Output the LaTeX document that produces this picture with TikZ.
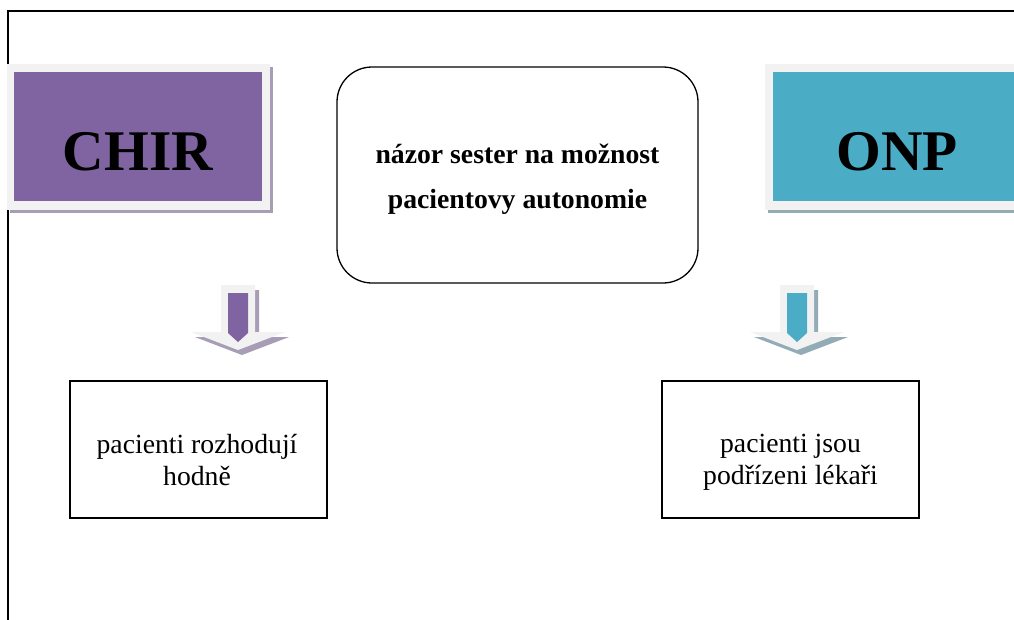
\documentclass[tikz,border=0pt]{standalone}
\usepackage{fontspec}
\setmainfont{Liberation Serif}
\definecolor{chirpurple}{HTML}{8064A2}
\definecolor{chirshadow}{HTML}{A79DB6}
\definecolor{onpteal}{HTML}{4BACC6}
\definecolor{onpshadow}{HTML}{93ABB5}
\definecolor{rimgray}{HTML}{F2F2F2}
\tikzset{
  frameline/.style={line width=1.6pt, black},
  headlabel/.style={font=\bfseries\fontsize{57.5}{60}\selectfont, anchor=base, inner sep=0pt},
  topicbox/.style={draw, line width=1.3pt, rounded corners=35pt, minimum width=361pt, minimum height=216pt, inner sep=0pt},
  topictext/.style={font=\bfseries\fontsize{27.7}{45}\selectfont, align=center, inner sep=0pt},
  resultbox/.style={draw, line width=1.5pt, minimum width=257pt, minimum height=137pt, inner sep=0pt},
  resulttext/.style={font=\fontsize{27.7}{32}\selectfont, align=center, inner sep=0pt},
}
\begin{document}
\begin{tikzpicture}[x=1pt, y=-1pt]
\useasboundingbox (0,0) rectangle (1014,619);
\clip (0,0) rectangle (1014,619);
\fill[white] (0,0) rectangle (1014,619);

% open frame along the top and left side
\draw[frameline] (1020,11) -- (8,11) -- (8,625);

% CHIR header block: shadow, light rim, coloured face
\fill[chirshadow] (10,67) rectangle (273,213);
\fill[rimgray] (7,64) rectangle (270,210);
\node[fill=chirpurple, minimum width=248pt, minimum height=129pt, inner sep=0pt] (chir) at (138,136.5) {};
\node[headlabel] (chirlabel) at (138,170) {CHIR};

% ONP header block, running off the right edge
\fill[onpshadow] (768,67) rectangle (1031,213);
\fill[rimgray] (765,64) rectangle (1028,210);
\node[fill=onpteal, minimum width=248pt, minimum height=129pt, inner sep=0pt] (onp) at (897,136.5) {};
\node[headlabel] (onplabel) at (897,170) {ONP};

% central topic
\node[topicbox] (topic) at (517.5,175) {};
\node[topictext] (topiclabel) at (517.5,179) {názor sester na možnost\\pacientovy autonomie};

% block arrows pointing down to the results
\foreach \cx/\col/\shc in {238/chirpurple/chirshadow, 797/onpteal/onpshadow} {
  \fill[\shc] (\cx-13,290) -- (\cx+21,290) -- (\cx+21,337) -- (\cx+51,337)
       -- (\cx+4,355) -- (\cx-43,337) -- (\cx-13,337) -- cycle;
  \fill[rimgray] (\cx-17,285) -- (\cx+17,285) -- (\cx+17,332) -- (\cx+47,332)
       -- (\cx,350) -- (\cx-47,332) -- (\cx-17,332) -- cycle;
  \fill[\col] (\cx-10,293) -- (\cx+10,293) -- (\cx+10,333) -- (\cx,342)
       -- (\cx-10,333) -- cycle;
}

% results
\node[resultbox] (chirres) at (198.5,449.5) {};
\node[resulttext] (chirrestext) at (197,459.5) {pacienti rozhodují\\hodně};
\node[resultbox] (onpres) at (790.5,449.5) {};
\node[resulttext] (onprestext) at (790.5,462.5) {pacienti jsou\\podřízeni lékaři};
\end{tikzpicture}
\end{document}
